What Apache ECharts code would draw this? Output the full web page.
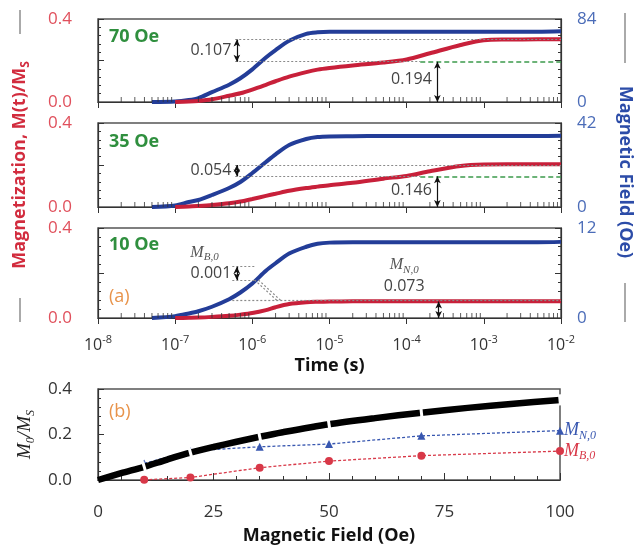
<!DOCTYPE html>
<html>
<head>
<meta charset="utf-8">
<script src="https://cdn.jsdelivr.net/npm/echarts@6/dist/echarts.min.js"></script>
<style>
  html, body { margin: 0; background: #fff; }
  #chart { width: 638px; height: 547px; }
</style>
</head>
<body>
<div id="chart"></div>
<script>
// ---- data ----
var times = [5e-8, 1e-7, 1.5e-7, 2e-7, 3e-7, 5e-7, 7e-7, 1e-6, 1.5e-6, 2e-6, 3e-6, 5e-6, 7e-6,
  1e-5, 2e-5, 5e-5, 1e-4, 2e-4, 5e-4, 1e-3, 2e-3, 5e-3, 1e-2];

// applied field (Oe), right axis
var field70 = [0, 0.5, 2, 4, 10, 17.5, 24, 33, 45, 52.5, 62, 69, 70.5, 71, 71, 71, 71, 71, 71, 71, 71, 71, 71.5];
var field35 = [0, 0.8, 2.5, 3.5, 6, 9.5, 12.5, 17, 22.5, 26.3, 31, 34, 35, 35.3, 35.4, 35.5, 35.5, 35.5, 35.5, 35.5, 35.5, 35.5, 35.6];
var field10 = [0, 0.25, 0.6, 0.9, 1.5, 2.5, 3.4, 4.6, 6.3, 7.3, 8.6, 9.5, 9.9, 10.05, 10.1, 10.1, 10.1, 10.1, 10.1, 10.1, 10.1, 10.1, 10.15];

// magnetization M(t)/Ms, left axis
var mag70 = [null, 0, 0.002, 0.005, 0.013, 0.03, 0.042, 0.06, 0.083, 0.1, 0.122, 0.144, 0.156, 0.164, 0.176, 0.19, 0.205, 0.235, 0.275, 0.298, 0.301, 0.302, 0.302];
var mag35 = [null, 0, 0.002, 0.005, 0.01, 0.018, 0.026, 0.038, 0.053, 0.063, 0.077, 0.09, 0.097, 0.104, 0.115, 0.135, 0.148, 0.17, 0.195, 0.202, 0.203, 0.203, 0.203];
var mag10 = [null, 0, 0.001, 0.002, 0.005, 0.01, 0.015, 0.022, 0.035, 0.048, 0.062, 0.07, 0.072, 0.073, 0.074, 0.074, 0.074, 0.074, 0.074, 0.074, 0.074, 0.074, 0.074];

// annotated levels: [total, neel, brown]
var levels70 = [0.301, 0.194, 0.107];
var levels35 = [0.200, 0.146, 0.054];
var levels10 = [0.074, 0.073, 0.001];

// panel (b)
var fieldB = [0, 5, 10, 15, 20, 25, 30, 35, 40, 50, 60, 70, 80, 90, 100];
var totalB = [0, 0.03, 0.058, 0.09, 0.12, 0.145, 0.168, 0.19, 0.21, 0.245, 0.272, 0.296, 0.317, 0.335, 0.352];
var measB = [10, 20, 35, 50, 70, 100];
var neelB = [0.073, 0.128, 0.146, 0.158, 0.194, 0.217];
var brownB = [0.001, 0.011, 0.054, 0.083, 0.107, 0.127];

// ---- styles ----
var FONT = '"Open Sans", sans-serif';
var SERIF = '"Liberation Serif", serif';
var RED = '#c8203a', BLUE = '#233d98';
var RED_T = '#d22c3e', BLUE_T = '#2c4ca8';
var RED_L = '#e0505c', BLUE_L = '#4b6cb8';
var GREEN = '#2f8f3e', ORANGE = '#e8934a';
var AX = '#333';

var chart = echarts.init(document.getElementById('chart'));

// minor tick positions of the log time axis (2..9 in each decade)
var minorT = [];
for (var dec = -8; dec < -2; dec++) {
  for (var mul = 2; mul <= 9; mul++) minorT.push(mul * Math.pow(10, dec));
}

var supRich = { s: { fontSize: 11, verticalAlign: 'top', lineHeight: 11, fontFamily: FONT, color: AX } };
var mRich = {
  i: { fontFamily: SERIF, fontStyle: 'italic', fontSize: 16, lineHeight: 20, color: '#555' },
  s: { fontFamily: SERIF, fontStyle: 'italic', fontSize: 11, lineHeight: 11, verticalAlign: 'bottom', color: '#555' }
};

var DOT = { type: [2, 2], color: '#8a8a8a', width: 1.2 };
var GDASH = { type: [5, 3], color: '#3c9a4c', width: 1.6 };
var ARR = { type: 'solid', color: '#111', width: 1.2 };

function hline(t1, t2, v, st) { return [{ coord: [t1, v], lineStyle: st }, { coord: [t2, v] }]; }
function seg(t1, v1, t2, v2, st) { return [{ coord: [t1, v1], lineStyle: st }, { coord: [t2, v2] }]; }
function varrow(t, v1, v2) {
  return [{ coord: [t, v1], symbol: 'arrow', lineStyle: ARR }, { coord: [t, v2], symbol: 'arrow' }];
}

var panels = [
  { top: 19, height: 83, fmax: 84, field: field70, mag: mag70, lv: levels70, name: '70 Oe', ly: 37 },
  { top: 123, height: 84, fmax: 42, field: field35, mag: mag35, lv: levels35, name: '35 Oe', ly: 142 },
  { top: 228, height: 90, fmax: 12, field: field10, mag: mag10, lv: levels10, name: '10 Oe', ly: 245 }
];

var grids = [], xAxes = [], yAxes = [], series = [];

panels.forEach(function (p, i) {
  grids.push({ left: 98, right: 77, top: p.top, height: p.height, show: true, borderColor: '#555', borderWidth: 1.5 });
  xAxes.push({
    type: 'log', gridIndex: i, min: 1e-8, max: 1e-2, logBase: 10,
    axisLine: { onZero: false, lineStyle: { color: AX, width: 1.2 } },
    axisTick: { show: true, inside: false, length: 6 },
    splitLine: { show: false },
    axisLabel: {
      show: i === 2, fontSize: 16, color: AX, fontFamily: FONT, margin: 16, lineHeight: 22,
      formatter: function (v) { return '10{s|' + Math.round(Math.log10(v)) + '}'; },
      rich: supRich
    },
    name: i === 2 ? 'Time (s)' : '', nameLocation: 'middle', nameGap: 35,
    nameTextStyle: { fontSize: 18, fontWeight: 'bold', color: '#111', fontFamily: FONT }
  });
  yAxes.push({
    type: 'value', gridIndex: i, position: 'left', min: 0, max: 0.4, interval: 0.2,
    axisLine: { show: true, lineStyle: { color: AX, width: 1.2 } },
    axisTick: { show: true, inside: true, length: 6, lineStyle: { color: AX } },
    minorTick: { show: true, splitNumber: 5, length: 3, lineStyle: { color: AX } },
    splitLine: { show: false },
    axisLabel: {
      color: RED_L, fontSize: 17, fontFamily: FONT, margin: 26,
      formatter: function (v) { return Math.abs(v - 0.2) < 1e-9 ? '' : v.toFixed(1); }
    }
  });
  yAxes.push({
    type: 'value', gridIndex: i, position: 'right', min: 0, max: p.fmax, interval: p.fmax / 2,
    axisLine: { show: true, lineStyle: { color: AX, width: 1.2 } },
    axisTick: { show: true, inside: true, length: 6, lineStyle: { color: AX } },
    minorTick: { show: true, splitNumber: 5, length: 3, lineStyle: { color: AX } },
    splitLine: { show: false },
    axisLabel: {
      color: BLUE_L, fontSize: 17, fontFamily: FONT, margin: 16,
      formatter: function (v) { return v === p.fmax / 2 ? '' : String(v); }
    }
  });

  var tot = p.lv[0], neel = p.lv[1], brown = p.lv[2];
  var lines, texts;
  if (i < 2) {
    lines = [
      hline(6e-7, 1e-2, tot, DOT),
      hline(6e-7, 1.5e-4, neel, DOT),
      hline(1.5e-4, 1e-2, neel, GDASH),
      varrow(6.3e-7, neel, tot),
      varrow(2.5e-4, 0, neel)
    ];
    texts = [
      { t: 6.3e-7, v: (tot + neel) / 2, text: brown.toFixed(3), pos: 'left' },
      { t: 2.5e-4, v: neel * 0.55, text: neel.toFixed(3), pos: 'left' }
    ];
  } else {
    lines = [
      hline(5.5e-7, 1.07e-6, 0.228, DOT),
      hline(5.5e-7, 1.07e-6, 0.169, DOT),
      seg(1.07e-6, 0.169, 2.1e-6, 0.077, DOT),
      seg(1.2e-6, 0.169, 2.35e-6, 0.077, DOT),
      hline(5.5e-7, 1e-2, 0.077, DOT),
      varrow(6.3e-7, 0.169, 0.228),
      varrow(2.6e-4, 0, neel)
    ];
    texts = [
      { t: 6.3e-7, v: 0.2, text: brown.toFixed(3), pos: 'left' },
      { t: 2.4e-7, v: 0.289, text: '{i|M}{s|B,0}', pos: 'inside' },
      { t: 9.3e-5, v: 0.235, text: '{i|M}{s|N,0}', pos: 'inside' },
      { t: 9.3e-5, v: 0.142, text: neel.toFixed(3), pos: 'inside' }
    ];
  }

  series.push({
    type: 'line', xAxisIndex: i, yAxisIndex: 2 * i + 1, z: 2,
    data: times.map(function (t, k) { return [t, p.field[k]]; }),
    showSymbol: false, smooth: 0.3,
    lineStyle: { color: BLUE, width: 4 }
  });
  series.push({
    type: 'line', xAxisIndex: i, yAxisIndex: 2 * i, z: 3,
    data: times.map(function (t, k) { return [t, p.mag[k]]; }).filter(function (pt) { return pt[1] !== null; }),
    showSymbol: false, smooth: 0.3,
    lineStyle: { color: RED, width: 4 },
    markLine: { silent: true, symbol: 'none', symbolSize: [5, 7], label: { show: false }, data: lines },
    markPoint: {
      silent: true, symbol: 'circle', symbolSize: 1, itemStyle: { color: 'rgba(0,0,0,0)' },
      data: texts.map(function (o) {
        return {
          coord: [o.t, o.v],
          label: { show: true, position: o.pos, distance: 5, formatter: o.text, color: '#444', fontSize: 16, fontFamily: FONT, rich: mRich }
        };
      })
    }
  });
  // minor ticks of the log axis: short bars standing on the axis line
  var half = 0.4 * 2.5 / p.height;
  series.push({
    type: 'scatter', xAxisIndex: i, yAxisIndex: 2 * i, z: 6, silent: true, clip: false,
    data: minorT.map(function (t) { return [t, half]; }),
    symbol: 'rect', symbolSize: [1, 5],
    itemStyle: { color: AX }
  });
});

// ---- panel (b) ----
grids.push({ left: 98, right: 78, top: 389, height: 91, show: true, borderColor: '#555', borderWidth: 1.5 });
xAxes.push({
  type: 'value', gridIndex: 3, min: 0, max: 100, interval: 25,
  axisLine: { onZero: false, lineStyle: { color: AX, width: 1.2 } },
  axisTick: { show: true, inside: true, length: 7, lineStyle: { color: AX } },
  minorTick: { show: true, splitNumber: 5, length: 4, lineStyle: { color: AX } },
  splitLine: { show: false },
  axisLabel: { fontSize: 17, color: AX, fontFamily: FONT, margin: 24 },
  name: 'Magnetic Field (Oe)', nameLocation: 'middle', nameGap: 47,
  nameTextStyle: { fontSize: 18, fontWeight: 'bold', color: '#111', fontFamily: FONT }
});
yAxes.push({
  type: 'value', gridIndex: 3, min: 0, max: 0.4, interval: 0.2,
  axisLine: { show: true, lineStyle: { color: AX, width: 1.2 } },
  axisTick: { show: true, inside: true, length: 6, lineStyle: { color: AX } },
  minorTick: { show: true, splitNumber: 5, length: 3, lineStyle: { color: AX } },
  splitLine: { show: false },
  axisLabel: { fontSize: 17, color: AX, fontFamily: FONT, margin: 26, formatter: function (v) { return v.toFixed(1); } },
  name: '{i|M}{s|0}{i|/M}{s|S}', nameLocation: 'middle', nameRotate: 90, nameGap: 60,
  nameTextStyle: {
    rich: {
      i: { fontFamily: SERIF, fontStyle: 'italic', fontSize: 19, lineHeight: 24, color: '#222' },
      s: { fontFamily: SERIF, fontStyle: 'italic', fontSize: 12, lineHeight: 12, verticalAlign: 'bottom', color: '#222' }
    }
  }
});

var pxPerX = 462 / 100, pxPerY = 91 / 0.4;
series.push({
  type: 'line', xAxisIndex: 3, yAxisIndex: 6, z: 5, smooth: 0.3,
  data: fieldB.map(function (f, k) {
    var a = Math.max(k - 1, 0), b = Math.min(k + 1, fieldB.length - 1);
    var ang = Math.atan(((totalB[b] - totalB[a]) * pxPerY) / ((fieldB[b] - fieldB[a]) * pxPerX)) * 180 / Math.PI;
    return { value: [f, totalB[k]], symbol: measB.indexOf(f) >= 0 ? 'rect' : 'none', symbolRotate: ang };
  }),
  symbolSize: [3, 11], showSymbol: true,
  itemStyle: { color: '#fff', borderWidth: 0 },
  lineStyle: { color: '#000', width: 6.5 }
});
series.push({
  type: 'line', xAxisIndex: 3, yAxisIndex: 6, z: 3, clip: false,
  data: measB.map(function (f, k) { return [f, neelB[k]]; }),
  symbol: 'triangle', symbolSize: 8,
  itemStyle: { color: '#3857b0' },
  lineStyle: { color: '#3857b0', width: 1.3, type: [3, 2] },
  endLabel: {
    show: true, distance: 4, formatter: '{i|M}{s|N,0}',
    rich: {
      i: { fontFamily: SERIF, fontStyle: 'italic', fontSize: 18, lineHeight: 22, color: '#3857b0' },
      s: { fontFamily: SERIF, fontStyle: 'italic', fontSize: 12, lineHeight: 12, verticalAlign: 'bottom', color: '#3857b0' }
    }
  }
});
series.push({
  type: 'line', xAxisIndex: 3, yAxisIndex: 6, z: 3, clip: false,
  data: measB.map(function (f, k) { return [f, brownB[k]]; }),
  symbol: 'circle', symbolSize: 8,
  itemStyle: { color: '#d83848' },
  lineStyle: { color: '#d83848', width: 1.3, type: [3, 2] },
  endLabel: {
    show: true, distance: 4, formatter: '{i|M}{s|B,0}',
    rich: {
      i: { fontFamily: SERIF, fontStyle: 'italic', fontSize: 18, lineHeight: 22, color: '#d83848' },
      s: { fontFamily: SERIF, fontStyle: 'italic', fontSize: 12, lineHeight: 12, verticalAlign: 'bottom', color: '#d83848' }
    }
  }
});

// ---- titles and labels ----
var graphics = [
  { type: 'line', shape: { x1: 20, y1: 10, x2: 20, y2: 34 }, style: { stroke: '#aaa', lineWidth: 2 } },
  { type: 'line', shape: { x1: 20, y1: 298, x2: 20, y2: 322 }, style: { stroke: '#aaa', lineWidth: 2 } },
  { type: 'line', shape: { x1: 625, y1: 13, x2: 625, y2: 63 }, style: { stroke: '#aaa', lineWidth: 2 } },
  { type: 'line', shape: { x1: 625, y1: 283, x2: 625, y2: 322 }, style: { stroke: '#aaa', lineWidth: 2 } },
  {
    type: 'text', x: 20, y: 165, rotation: Math.PI / 2,
    style: {
      text: 'Magnetization, M(t)/M{s|S}', fill: RED_T, fontSize: 18, fontWeight: 'bold', fontFamily: FONT,
      align: 'center', verticalAlign: 'middle', lineHeight: 24,
      rich: { s: { fontSize: 12, fontWeight: 'bold', fontFamily: FONT, lineHeight: 12, verticalAlign: 'bottom', fill: RED_T } }
    }
  },
  {
    type: 'text', x: 625, y: 172, rotation: -Math.PI / 2,
    style: { text: 'Magnetic Field (Oe)', fill: BLUE_T, fontSize: 18, fontWeight: 'bold', fontFamily: FONT, align: 'center', verticalAlign: 'middle' }
  },
  { type: 'text', x: 109, y: 297, style: { text: '(a)', fill: ORANGE, fontSize: 18, fontFamily: FONT, verticalAlign: 'middle' } },
  { type: 'text', x: 109, y: 412, style: { text: '(b)', fill: ORANGE, fontSize: 18, fontFamily: FONT, verticalAlign: 'middle' } }
];
panels.forEach(function (p) {
  graphics.push({ type: 'text', x: 109, y: p.ly, style: { text: p.name, fill: GREEN, fontSize: 18, fontWeight: 'bold', fontFamily: FONT, verticalAlign: 'middle' } });
});

chart.setOption({
  animation: false,
  backgroundColor: '#fff',
  textStyle: { fontFamily: FONT },
  grid: grids,
  xAxis: xAxes,
  yAxis: yAxes,
  series: series,
  graphic: graphics
});
</script>
</body>
</html>
